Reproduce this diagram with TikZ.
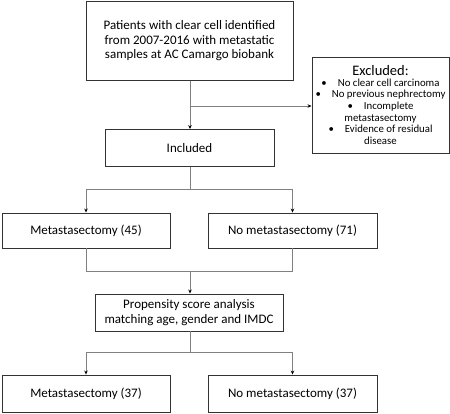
\documentclass[tikz,border=0pt]{standalone}
\usepackage{fontspec}
\setmainfont{Carlito}
\usetikzlibrary{arrows.meta}
\begin{document}
\begin{tikzpicture}[x=1pt,y=-1pt,
  box/.style={draw=black!80, line width=0.9pt, rectangle, align=center, font=\fontsize{13}{14.5}\selectfont, inner sep=0pt},
  conn/.style={draw=black!50, line width=1pt},
  arr/.style={conn, -{Stealth[length=4pt,width=3.5pt,fill=black,color=black]}}
]
\useasboundingbox (0,0) rectangle (450,413);
\node[box, minimum width=207pt, minimum height=79pt] (top) at (189.5,41) {Patients with clear cell identified\\from 2007-2016 with metastatic\\samples at AC Camargo biobank};
\node[box, minimum width=137pt, minimum height=96pt, font=\fontsize{10.8}{11.6}\selectfont] (excl) at (380.5,105)
  {{\fontsize{14.5}{15}\selectfont Excluded:}\\[-1pt]
   \textbullet\hspace{11pt}No clear cell carcinoma\\
   \textbullet\hspace{11pt}No previous nephrectomy\\
   \textbullet\hspace{11pt}Incomplete\\
   metastasectomy\\
   \textbullet\hspace{11pt}Evidence of residual\\
   disease};
\node[box, minimum width=169pt, minimum height=37pt] (incl) at (189.5,148) {Included};
\node[box, minimum width=168pt, minimum height=35pt] (m45) at (86,230.5) {Metastasectomy (45)};
\node[box, minimum width=169pt, minimum height=35pt] (n71) at (292.5,230.5) {No metastasectomy (71)};
\node[box, minimum width=188pt, minimum height=37pt] (prop) at (189,312.5) {Propensity score analysis\\matching age, gender and IMDC};
\node[box, minimum width=168pt, minimum height=37pt] (m37) at (86,393.5) {Metastasectomy (37)};
\node[box, minimum width=169pt, minimum height=37pt] (n37) at (292.5,393.5) {No metastasectomy (37)};

\coordinate (j1) at (190,106);
\draw[arr] (top.south -| j1) -- (incl.north -| j1);
\draw[arr] (j1) -- (excl.west |- j1);

\coordinate (s1) at (190,189);
\draw[conn] (incl.south -| s1) -- (s1);
\draw[arr] (s1) -| (m45.north);
\draw[arr] (s1) -| (n71.north);

\coordinate (s2) at (190,271);
\draw[conn] (m45.south) |- (s2);
\draw[conn] (n71.south) |- (s2);
\draw[arr] (s2) -- (prop.north -| s2);

\coordinate (s3) at (190,352);
\draw[conn] (prop.south -| s3) -- (s3);
\draw[arr] (s3) -| (m37.north);
\draw[arr] (s3) -| (n37.north);
\end{tikzpicture}
\end{document}
